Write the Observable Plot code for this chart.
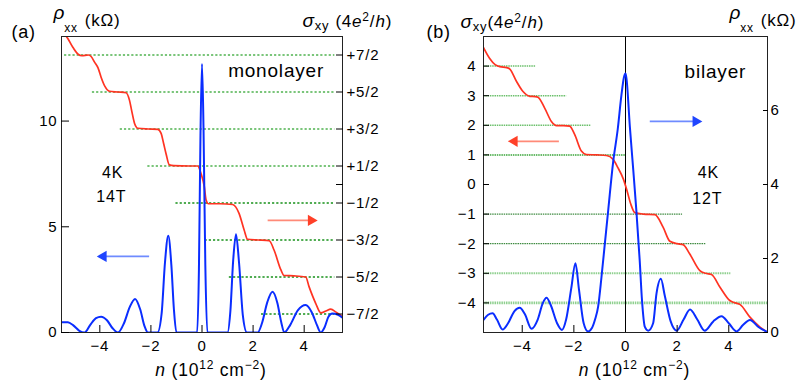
<!DOCTYPE html>
<html><head><meta charset="utf-8">
<script src="https://cdn.jsdelivr.net/npm/d3@7"></script>
<script src="https://cdn.jsdelivr.net/npm/@observablehq/plot@0.6"></script>
<style>
body{margin:0;background:#fff;}
#wrap{display:flex;width:796px;height:385px;overflow:hidden;}
#wrap svg{flex:none;}
</style></head><body><div id="wrap"></div>
<script>
// ---------------- data: panel (a) monolayer, 4K 14T ----------------
// rho_xx (kOhm) vs n (1e12 cm^-2)
const monoRho = [[-5.5,0.49],[-5.25,0.48],[-5.05,0.35],[-4.8,0.08],[-4.6,0],[-4.38,0.35],[-4.15,0.68],[-3.95,0.75],[-3.72,0.58],[-3.5,0.2],[-3.29,0],[-3.05,0.45],[-2.83,1.2],[-2.62,1.59],[-2.42,1.1],[-2.25,0.3],[-2.12,0],[-1.74,0],[-1.58,0.9],[-1.45,3.3],[-1.32,4.58],[-1.2,3.2],[-1.1,1.1],[-1.0,0],[-0.19,0],[-0.12,3.0],[-0.06,9.3],[0,12.7],[0.06,9.6],[0.13,3.2],[0.21,0],[1.0,0],[1.11,1.0],[1.22,3.4],[1.33,4.65],[1.45,3.3],[1.6,0.8],[1.76,0],[2.18,0],[2.35,0.45],[2.56,1.45],[2.76,1.93],[2.95,1.4],[3.1,0.5],[3.22,0],[3.45,0.35],[3.75,1.05],[4.06,1.3],[4.3,0.95],[4.5,0.35],[4.65,0],[4.8,0.25],[4.95,0.75],[5.1,0.9],[5.3,0.85],[5.5,0.7]];
// sigma_xy (4e^2/h) vs n
const monoSigma = [[-5.5,4.1],[-5.31,4.0],[-5.05,3.7],[-4.85,3.52],[-4.7,3.48],[-4.45,3.5],[-4.34,3.46],[-4.2,3.3],[-4.07,3.15],[-3.95,2.9],[-3.8,2.65],[-3.62,2.52],[-3.3,2.5],[-2.97,2.48],[-2.84,2.28],[-2.74,1.95],[-2.64,1.65],[-2.51,1.52],[-2.1,1.5],[-1.73,1.49],[-1.6,1.38],[-1.5,1.1],[-1.41,0.84],[-1.28,0.53],[-1.1,0.51],[-0.5,0.5],[-0.17,0.5],[-0.04,0.3],[0.09,-0.06],[0.16,-0.42],[0.25,-0.52],[0.7,-0.52],[1.2,-0.54],[1.45,-0.78],[1.65,-1.23],[1.78,-1.48],[2.2,-1.5],[2.63,-1.52],[2.82,-1.77],[3.09,-2.31],[3.21,-2.46],[3.6,-2.47],[4.06,-2.5],[4.19,-2.76],[4.45,-3.21],[4.65,-3.47],[4.85,-3.42],[5.04,-3.37],[5.25,-3.45],[5.5,-3.57]];
// quantized plateau guides: [sigma, n start, n end]
const monoPlateaus = [[3.5,-5.38,5.2],[2.5,-4.29,5.2],[1.5,-3.2,5.2],[0.5,-2.12,5.2],[-0.5,-1.02,5.2],[-1.5,0.12,5.2],[-2.5,1.07,5.2],[-3.5,2.33,5.2]];

// ---------------- data: panel (b) bilayer, 4K 12T ----------------
const biRho = [[-5.5,0.34],[-5.32,0.48],[-5.15,0.52],[-4.98,0.35],[-4.76,0.08],[-4.55,0.25],[-4.3,0.58],[-4.1,0.67],[-3.9,0.5],[-3.64,0.1],[-3.4,0.35],[-3.2,0.8],[-3.06,0.94],[-2.9,0.75],[-2.65,0.25],[-2.46,0.07],[-2.3,0.35],[-2.1,1.2],[-1.94,1.87],[-1.8,1.15],[-1.62,0.25],[-1.45,0.03],[-1.3,0.12],[-1.18,0.35],[-1.06,0.7],[-0.93,1.5],[-0.8,2.4],[-0.67,3.3],[-0.48,4.6],[-0.3,5.5],[-0.16,6.4],[-0.06,6.9],[0,7.0],[0.04,6.85],[0.17,5.55],[0.3,4.4],[0.42,3.3],[0.55,1.95],[0.64,0.86],[0.75,0.15],[0.88,0.05],[1.07,0.25],[1.2,1.05],[1.37,1.45],[1.52,1.0],[1.75,0.3],[1.98,0.05],[2.25,0.35],[2.5,0.62],[2.78,0.35],[3.07,0.05],[3.4,0.3],[3.72,0.44],[4.0,0.25],[4.3,0.03],[4.55,0.2],[4.82,0.34],[5.15,0.15],[5.47,0.02]];
const biSigma = [[-5.52,4.66],[-5.26,4.26],[-5.05,4.05],[-4.87,3.98],[-4.6,3.95],[-4.48,3.9],[-4.22,3.48],[-3.97,3.14],[-3.71,2.98],[-3.5,2.97],[-3.39,2.95],[-3.13,2.58],[-2.87,2.13],[-2.67,1.99],[-2.4,1.99],[-2.16,1.97],[-1.97,1.69],[-1.71,1.13],[-1.51,1.01],[-1.1,1.0],[-0.74,0.98],[-0.48,0.85],[-0.29,0.56],[-0.09,0.2],[0.04,-0.15],[0.2,-0.65],[0.36,-0.95],[0.7,-1.0],[1.14,-1.02],[1.46,-1.45],[1.72,-1.92],[2.0,-2.0],[2.23,-2.03],[2.49,-2.35],[2.88,-2.91],[3.1,-3.0],[3.33,-3.04],[3.66,-3.47],[4.04,-3.92],[4.25,-4.0],[4.43,-4.05],[4.82,-4.48],[5.2,-4.81],[5.47,-4.98]];
const biPlateaus = [[4,-5.5,-3.47],[3,-5.5,-2.28],[2,-5.5,-1.32],[1,-5.5,0.04],[-1,-5.5,2.21],[-2,-5.5,3.11],[-3,-5.5,4.08],[-4,-5.5,5.5]];

// ---------------- ticks and labels ----------------
const xTicks = [-4,-2,0,2,4];
const rhoTicksA = [0,5,10];
const sigmaTicksA = [3.5,2.5,1.5,0.5,-0.5,-1.5,-2.5,-3.5];
const sigmaTickLabelsA = ["+7/2","+5/2","+3/2","+1/2","\u22121/2","\u22123/2","\u22125/2","\u22127/2"];
const sigmaMinorA = [0];
const sigmaTicksB = [-4,-3,-2,-1,0,1,2,3,4];
const rhoTicksB = [0,2,4,6];

// annotations (data coordinates)
const notesA = [{x:2.9,y:12.35,t:"monolayer",s:19},{x:-3.5,y:7.55,t:"4K",s:16},{x:-3.55,y:6.4,t:"14T",s:16}];
const notesB = [{x:3.48,y:3.82,t:"bilayer",s:19},{x:3.21,y:0.39,t:"4K",s:16},{x:3.17,y:-0.49,t:"12T",s:16}];
const arrowsA = [{x1:-2.07,x2:-3.98,y:3.6,c:"blue"},{x1:2.57,x2:4.39,y:5.3,c:"red"}];
const arrowsB = [{x1:-2.58,x2:-4.42,y:1.46,c:"red"},{x1:0.94,x2:2.84,y:2.13,c:"blue"}];

// ---------------- styling ----------------
const FONT = '"Liberation Sans", Arial, Helvetica, sans-serif';
const BLUE = "#0a2dff", RED = "#ff3322";
const SHAFT = {blue:"#6f8bff", red:"#ff8a78"};
const HEAD = {blue:"#1f45ff", red:"#ff4028"};
const TICKFS = 15;
const SVGSTYLE = {fontFamily: FONT, fontSize: "15px", letterSpacing: "0.8px", background: "white", overflow: "visible"};

// dual-axis conversions
const rhoFromSigmaA = s => (s + 4) * 1.75;      // sigma [-4,4] -> rho [0,14]
const sigmaFromRhoB = r => r * 1.25 - 5;        // rho [0,8] -> sigma [-5,5]
const labelMapA = new Map(sigmaTicksA.map((s,i) => [rhoFromSigmaA(s), sigmaTickLabelsA[i]]));
const labelMapB = new Map(rhoTicksB.map(r => [sigmaFromRhoB(r), String(r)]));

const richText = {
  "ρxx (kΩ)": '<tspan font-style="italic" font-size="19" dy="-7">ρ</tspan><tspan font-size="12" dx="-1" dy="13">xx</tspan><tspan dx="7" dy="-6">(kΩ)</tspan>',
  "σxy (4e²/h)": '<tspan font-style="italic" font-size="19">σ</tspan><tspan font-size="13" dy="3">xy</tspan><tspan dx="6" dy="-3">(4</tspan><tspan font-style="italic">e</tspan><tspan font-size="12" dy="-6">2</tspan><tspan dy="6">/</tspan><tspan font-style="italic">h</tspan><tspan>)</tspan>',
  "σxy(4e²/h)": '<tspan font-style="italic" font-size="19">σ</tspan><tspan font-size="13" dy="3">xy</tspan><tspan dy="-3">(4</tspan><tspan font-style="italic">e</tspan><tspan font-size="12" dy="-6">2</tspan><tspan dy="6">/</tspan><tspan font-style="italic">h</tspan><tspan>)</tspan>',
  "n (10¹² cm⁻²)": '<tspan font-style="italic">n</tspan><tspan> (10</tspan><tspan font-size="12" dy="-7">12</tspan><tspan dy="7"> cm</tspan><tspan font-size="12" dy="-7">\u22122</tspan><tspan dy="7">)</tspan>'
};
function enrich(svg) {
  d3.select(svg).selectAll("text").each(function() {
    const k = this.textContent;
    if (k in richText) this.innerHTML = richText[k];
  });
  return svg;
}
// outside-frame labels; lineAnchor bottom => the y offset is the baseline
const label = (t, o) => Plot.text([t], {text: d => d, fontSize: 17, fill: "black", lineAnchor: "bottom", ...o});
// arrows: light shaft + filled triangular head
const arrowMarks = (arr) => [
  Plot.link(arr, {x1: "x1", x2: "x2", y1: "y", y2: "y", stroke: d => SHAFT[d.c], strokeWidth: 1.8}),
  Plot.dot(arr.filter(d => d.x2 > d.x1), {x: "x2", y: "y", symbol: "triangle", r: 4.2, rotate: 90, dx: -3, fill: d => HEAD[d.c], stroke: "none"}),
  Plot.dot(arr.filter(d => d.x2 < d.x1), {x: "x2", y: "y", symbol: "triangle", r: 4.2, rotate: -90, dx: 3, fill: d => HEAD[d.c], stroke: "none"})
];

// ---------------- panel (a) ----------------
const plotA = Plot.plot({
  width: 398, height: 385,
  marginLeft: 61, marginRight: 56, marginTop: 36, marginBottom: 53,
  style: SVGSTYLE,
  x: {domain: [-5.5, 5.5]},
  y: {domain: [0, 14]},
  marks: [
    Plot.ruleY(monoPlateaus, {y: d => rhoFromSigmaA(d[0]), x1: d => d[1], x2: d => d[2],
      stroke: d => d[0] > 0 ? "#4fb24f" : "#17911a", strokeDasharray: "2.2,2", strokeWidth: 1.3}),
    Plot.line(monoSigma, {x: d => d[0], y: d => rhoFromSigmaA(d[1]), stroke: RED, strokeWidth: 1.7, curve: "monotone-x", clip: true}),
    Plot.line(monoRho, {x: d => d[0], y: d => d[1], stroke: BLUE, strokeWidth: 2, curve: "monotone-x", clip: true}),
    ...arrowMarks(arrowsA),
    Plot.text(notesA, {x: "x", y: "y", text: "t", fontSize: "s", fill: "black"}),
    Plot.frame({stroke: "#222"}),
    Plot.axisX(xTicks, {tickSize: -7, tickPadding: 15, label: null, fontSize: TICKFS}),
    Plot.axisY(rhoTicksA, {anchor: "left", tickSize: -8, tickPadding: 12, label: null, fontSize: TICKFS}),
    Plot.axisY(sigmaTicksA.map(rhoFromSigmaA), {anchor: "right", tickSize: -7, tickPadding: 11, label: null, fontSize: TICKFS, tickFormat: d => labelMapA.get(d)}),
    Plot.axisY(sigmaMinorA.map(rhoFromSigmaA), {anchor: "right", tickSize: -7, label: null, tickFormat: () => ""}),
    label("(a)", {frameAnchor: "top-left", textAnchor: "start", dx: -50, dy: 1, fontSize: 18}),
    label("ρxx (kΩ)", {frameAnchor: "top-left", textAnchor: "start", dx: -8, dy: -11}),
    label("σxy (4e²/h)", {frameAnchor: "top-left", textAnchor: "start", dx: 241, dy: -10}),
    label("n (10¹² cm⁻²)", {frameAnchor: "bottom", textAnchor: "middle", dx: 9, dy: 43, fontSize: 17.5})
  ]
});

// ---------------- panel (b) ----------------
const plotB = Plot.plot({
  width: 398, height: 385,
  marginLeft: 85, marginRight: 29, marginTop: 36, marginBottom: 53,
  style: SVGSTYLE,
  x: {domain: [-5.5, 5.5]},
  y: {domain: [-5, 5]},
  marks: [
    Plot.ruleY(biPlateaus, {y: d => d[0], x1: d => d[1], x2: d => d[2],
      stroke: d => (d[0] === -1 || d[0] === -2) ? "#0f6e12" : (d[0] < 0 ? "#8fd08f" : (d[0] === 1 ? "#3aa53a" : "#6cc06c")),
      strokeWidth: d => d[0] === -4 ? 2.6 : (d[0] === -3 ? 2 : (d[0] < 0 ? 1 : 1.5)),
      strokeDasharray: "1.5,0.8"}),
    Plot.ruleX([0], {stroke: "black", strokeWidth: 1}),
    Plot.line(biSigma, {x: d => d[0], y: d => d[1], stroke: RED, strokeWidth: 1.7, curve: "monotone-x", clip: true}),
    Plot.line(biRho, {x: d => d[0], y: d => sigmaFromRhoB(d[1]), stroke: BLUE, strokeWidth: 2, curve: "monotone-x", clip: true}),
    ...arrowMarks(arrowsB),
    Plot.text(notesB, {x: "x", y: "y", text: "t", fontSize: "s", fill: "black"}),
    Plot.frame({stroke: "#222"}),
    Plot.axisX(xTicks, {tickSize: -7, tickPadding: 15, label: null, fontSize: TICKFS}),
    Plot.axisY(sigmaTicksB, {anchor: "left", tickSize: -6, tickPadding: 13, label: null, fontSize: TICKFS}),
    Plot.axisY(rhoTicksB.map(sigmaFromRhoB), {anchor: "right", tickSize: -5, tickPadding: 8, label: null, fontSize: TICKFS, tickFormat: d => labelMapB.get(d)}),
    label("(b)", {frameAnchor: "top-left", textAnchor: "start", dx: -57, dy: 1, fontSize: 18}),
    label("σxy(4e²/h)", {frameAnchor: "top-left", textAnchor: "start", dx: -23, dy: -9}),
    label("ρxx (kΩ)", {frameAnchor: "top-left", textAnchor: "start", dx: 246, dy: -11}),
    label("n (10¹² cm⁻²)", {frameAnchor: "bottom", textAnchor: "middle", dx: 9, dy: 43, fontSize: 17.5})
  ]
});

const wrap = document.getElementById("wrap");
wrap.appendChild(enrich(plotA));
wrap.appendChild(enrich(plotB));
</script>
</body></html>
